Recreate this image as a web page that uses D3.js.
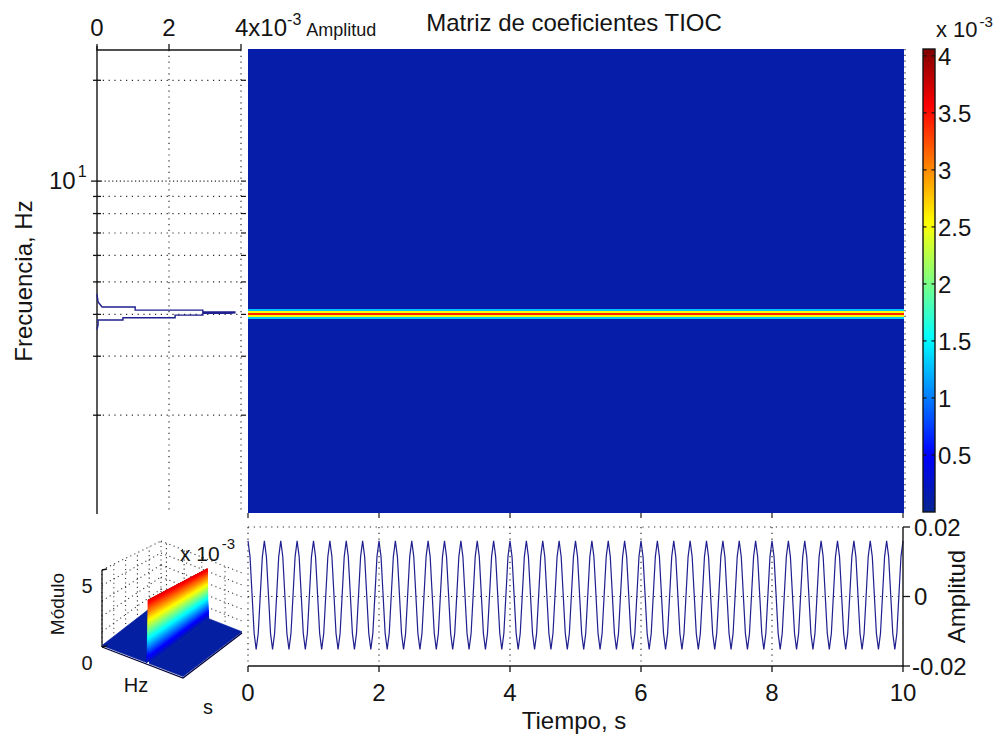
<!DOCTYPE html>
<html><head><meta charset="utf-8">
<script src="https://cdn.jsdelivr.net/npm/d3@7"></script>
<style>
body{margin:0;background:#fff}
svg{display:block}
text{font-family:"Liberation Sans",Arial,Helvetica,sans-serif;fill:#141414}
</style>
</head><body>
<svg id="c" width="1000" height="740"></svg>
<script>
// ---------------- data ----------------
const freqTicks = [2, 3, 4, 5, 6, 7, 8, 9, 10, 20];
const freqMajor = [10];
const ampTicks = [0, 0.002, 0.004];
const timeTicks = [0, 2, 4, 6, 8, 10];
const sigTicks = [-0.02, 0, 0.02];
const cbarTicks = [0.0005, 0.001, 0.0015, 0.002, 0.0025, 0.003, 0.0035, 0.004];
const freqRange = [1.028, 24.8];
const timeRange = [0, 10];
const ampRange = [0, 0.004];
const sigRange = [-0.02, 0.02];
const coefRange = [0, 0.00406];

// spectrum (left panel): frequency (Hz) and amplitude
const specFreq = [4.60, 4.36, 4.21, 4.21, 4.12, 4.12, 4.07, 4.07, 4.04, 4.03, 4.03, 3.98, 3.98, 3.91, 3.91, 3.85, 3.85, 3.72, 3.60];
const specAmp  = [0, 0.00003, 0.00014, 0.00106, 0.00106, 0.00294, 0.00294, 0.00383, 0.00383, 0.00369, 0.00294, 0.00294, 0.00217, 0.00217, 0.00072, 0.00072, 0.00003, 0.00003, 0];

// coefficient matrix rows (frequency edges, Hz) and values, columns in time (s)
const rowEdges = [1.028, 3.89, 3.95, 4.00, 4.06, 4.12, 4.18, 24.8];
const rowCoef  = [0.00012, 0.0013, 0.0025, 0.0034, 0.0025, 0.0013, 0.00012];
const timeEdges = [0, 1, 2, 3, 4, 5, 6, 7, 8, 9, 10];

// time signal samples
const sampleRate = 32;
const signal = [
0.0160,0.0114,0.0004,-0.0106,-0.0152,-0.0106,0.0004,0.0114,
0.0160,0.0114,0.0004,-0.0106,-0.0152,-0.0106,0.0004,0.0114,
0.0160,0.0114,0.0004,-0.0106,-0.0152,-0.0106,0.0004,0.0114,
0.0160,0.0114,0.0004,-0.0106,-0.0152,-0.0106,0.0004,0.0114,
0.0160,0.0114,0.0004,-0.0106,-0.0152,-0.0106,0.0004,0.0114,
0.0160,0.0114,0.0004,-0.0106,-0.0152,-0.0106,0.0004,0.0114,
0.0160,0.0114,0.0004,-0.0106,-0.0152,-0.0106,0.0004,0.0114,
0.0160,0.0114,0.0004,-0.0106,-0.0152,-0.0106,0.0004,0.0114,
0.0160,0.0114,0.0004,-0.0106,-0.0152,-0.0106,0.0004,0.0114,
0.0160,0.0114,0.0004,-0.0106,-0.0152,-0.0106,0.0004,0.0114,
0.0160,0.0114,0.0004,-0.0106,-0.0152,-0.0106,0.0004,0.0114,
0.0160,0.0114,0.0004,-0.0106,-0.0152,-0.0106,0.0004,0.0114,
0.0160,0.0114,0.0004,-0.0106,-0.0152,-0.0106,0.0004,0.0114,
0.0160,0.0114,0.0004,-0.0106,-0.0152,-0.0106,0.0004,0.0114,
0.0160,0.0114,0.0004,-0.0106,-0.0152,-0.0106,0.0004,0.0114,
0.0160,0.0114,0.0004,-0.0106,-0.0152,-0.0106,0.0004,0.0114,
0.0160,0.0114,0.0004,-0.0106,-0.0152,-0.0106,0.0004,0.0114,
0.0160,0.0114,0.0004,-0.0106,-0.0152,-0.0106,0.0004,0.0114,
0.0160,0.0114,0.0004,-0.0106,-0.0152,-0.0106,0.0004,0.0114,
0.0160,0.0114,0.0004,-0.0106,-0.0152,-0.0106,0.0004,0.0114,
0.0160,0.0114,0.0004,-0.0106,-0.0152,-0.0106,0.0004,0.0114,
0.0160,0.0114,0.0004,-0.0106,-0.0152,-0.0106,0.0004,0.0114,
0.0160,0.0114,0.0004,-0.0106,-0.0152,-0.0106,0.0004,0.0114,
0.0160,0.0114,0.0004,-0.0106,-0.0152,-0.0106,0.0004,0.0114,
0.0160,0.0114,0.0004,-0.0106,-0.0152,-0.0106,0.0004,0.0114,
0.0160,0.0114,0.0004,-0.0106,-0.0152,-0.0106,0.0004,0.0114,
0.0160,0.0114,0.0004,-0.0106,-0.0152,-0.0106,0.0004,0.0114,
0.0160,0.0114,0.0004,-0.0106,-0.0152,-0.0106,0.0004,0.0114,
0.0160,0.0114,0.0004,-0.0106,-0.0152,-0.0106,0.0004,0.0114,
0.0160,0.0114,0.0004,-0.0106,-0.0152,-0.0106,0.0004,0.0114,
0.0160,0.0114,0.0004,-0.0106,-0.0152,-0.0106,0.0004,0.0114,
0.0160,0.0114,0.0004,-0.0106,-0.0152,-0.0106,0.0004,0.0114,
0.0160,0.0114,0.0004,-0.0106,-0.0152,-0.0106,0.0004,0.0114,
0.0160,0.0114,0.0004,-0.0106,-0.0152,-0.0106,0.0004,0.0114,
0.0160,0.0114,0.0004,-0.0106,-0.0152,-0.0106,0.0004,0.0114,
0.0160,0.0114,0.0004,-0.0106,-0.0152,-0.0106,0.0004,0.0114,
0.0160,0.0114,0.0004,-0.0106,-0.0152,-0.0106,0.0004,0.0114,
0.0160,0.0114,0.0004,-0.0106,-0.0152,-0.0106,0.0004,0.0114,
0.0160,0.0114,0.0004,-0.0106,-0.0152,-0.0106,0.0004,0.0114,
0.0160,0.0114,0.0004,-0.0106,-0.0152,-0.0106,0.0004,0.0114,
0.0160];

// 3D inset surface: profile along frequency, constant over time
const surfFreq = [24.8, 4.30, 4.22, 4.15, 4.08, 4.04, 4.01, 3.94, 3.87, 3.80, 1.028];
const surfZ    = [0.0001, 0.0001, 0.0006, 0.0018, 0.0034, 0.0042, 0.0036, 0.0020, 0.0008, 0.0001, 0.0001];
const surfTime = [0, 10];
const surfCmax = 0.0046;
const zGridTicks = [0, 0.001, 0.002, 0.003, 0.004, 0.005];
const zTickLabels = [0, 0.005];
const hzGridTicks = [20, 10, 5, 2];

// ---------------- drawing ----------------
const svg = d3.select('#c');
const INK = '#141414';
const LINE = '#1f1f8f';
const dot = sel => sel.attr('stroke', '#2a2a2a').attr('stroke-width', 1.2).attr('stroke-dasharray', '1.2,4.6').attr('fill', 'none');

const fY = d3.scaleLog().domain(freqRange).range([512, 49]);
const tX = d3.scaleLinear().domain(timeRange).range([248, 903]);
const aX = d3.scaleLinear().domain(ampRange).range([97, 241]);
const sY = d3.scaleLinear().domain(sigRange).range([666, 527]);
const cY = d3.scaleLinear().domain(coefRange).range([512, 49]);

const jetPos = [0, 0.125, 0.375, 0.625, 0.875, 1];
const jetCol = ['#06268e', '#0000ff', '#00ffff', '#ffff00', '#ff0000', '#800000'];
const jet = d3.scaleLinear().domain(jetPos.map(p => p * coefRange[1])).range(jetCol).clamp(true);
const jetS = d3.scaleLinear().domain(jetPos.map(p => p * surfCmax)).range(jetCol).clamp(true);

// title
svg.append('text').attr('x', 574).attr('y', 31).attr('text-anchor', 'middle')
  .attr('font-size', 24).text('Matriz de coeficientes TIOC');

// ---- heatmap ----
const cells = [];
rowCoef.forEach((c, i) => timeEdges.slice(0, -1).forEach((t, j) =>
  cells.push({f0: rowEdges[i], f1: rowEdges[i + 1], t0: t, t1: timeEdges[j + 1], c})));
svg.append('g').attr('shape-rendering', 'crispEdges')
  .selectAll('rect').data(cells).join('rect')
  .attr('x', d => tX(d.t0)).attr('y', d => fY(d.f1))
  .attr('width', d => tX(d.t1) - tX(d.t0) + 0.6)
  .attr('height', d => fY(d.f0) - fY(d.f1) + 0.6)
  .attr('fill', d => jet(d.c));
svg.append('line').attr('x1', 905).attr('x2', 905).attr('y1', 49).attr('y2', 513).call(dot);
svg.append('g').selectAll('line').data(timeTicks).join('line')
  .attr('x1', d => tX(d)).attr('x2', d => tX(d)).attr('y1', 513).attr('y2', 518)
  .attr('stroke', INK).attr('stroke-width', 1.2);

// ---- left spectrum panel ----
const lp = svg.append('g');
lp.selectAll('.hg').data(freqTicks).join('line')
  .attr('x1', 97).attr('x2', 241).attr('y1', d => fY(d)).attr('y2', d => fY(d)).call(dot)
  .attr('stroke-dasharray', d => freqMajor.includes(d) ? '1.2,2.6' : '1.2,4.6');
lp.selectAll('.vg').data(ampTicks.slice(1)).join('line')
  .attr('x1', d => aX(d)).attr('x2', d => aX(d)).attr('y1', 50).attr('y2', 512).call(dot);
lp.append('line').attr('x1', 97).attr('x2', 97).attr('y1', 46).attr('y2', 514).attr('stroke', INK).attr('stroke-width', 1.4);
lp.append('line').attr('x1', 96.3).attr('x2', 241).attr('y1', 50).attr('y2', 50).attr('stroke', INK).attr('stroke-width', 1.4);
lp.selectAll('.lt').data(freqTicks).join('line')
  .attr('x1', d => freqMajor.includes(d) ? 91 : 93).attr('x2', 101)
  .attr('y1', d => fY(d)).attr('y2', d => fY(d)).attr('stroke', INK).attr('stroke-width', 1.3);
lp.selectAll('.rt').data(freqTicks).join('line')
  .attr('x1', 241).attr('x2', 246).attr('y1', d => fY(d)).attr('y2', d => fY(d)).attr('stroke', INK).attr('stroke-width', 1.2);
lp.selectAll('.tt').data(ampTicks).join('line')
  .attr('x1', d => aX(d)).attr('x2', d => aX(d)).attr('y1', 44).attr('y2', 50).attr('stroke', INK).attr('stroke-width', 1.3);
lp.selectAll('.tl').data(ampTicks.slice(0, 2)).join('text')
  .attr('x', d => aX(d)).attr('y', 36).attr('text-anchor', 'middle').attr('font-size', 24)
  .text(d => d3.format('~g')(d * 1000));
const t4 = lp.append('text').attr('x', aX(ampTicks[2]) - 6).attr('y', 36).attr('font-size', 24);
t4.append('tspan').text(d3.format('~g')(ampTicks[2] * 1000) + 'x10');
t4.append('tspan').attr('font-size', 16).attr('dy', -11).text('-3');
t4.append('tspan').attr('font-size', 18).attr('dy', 11).attr('dx', 5).text('Amplitud');
const t10 = lp.append('text').attr('x', 49).attr('y', fY(10) + 8).attr('font-size', 24);
t10.append('tspan').text('10');
t10.append('tspan').attr('font-size', 16).attr('dy', -12).attr('dx', 2).text('1');
lp.append('text').attr('transform', 'translate(32,281) rotate(-90)').attr('text-anchor', 'middle')
  .attr('font-size', 24).text('Frecuencia, Hz');
const spec = specFreq.map((f, i) => [f, specAmp[i]]);
lp.append('path').datum(spec)
  .attr('d', d3.line().x(d => aX(d[1])).y(d => fY(d[0])))
  .attr('fill', 'none').attr('stroke', LINE).attr('stroke-width', 1.4);

// ---- colorbar ----
const defs = svg.append('defs');
const grad = defs.append('linearGradient').attr('id', 'cbg').attr('x1', 0).attr('y1', 1).attr('x2', 0).attr('y2', 0);
d3.range(0, 1.0001, 0.02).forEach(o => grad.append('stop').attr('offset', o).attr('stop-color', jet(o * coefRange[1])));
svg.append('rect').attr('x', 923).attr('y', cY(coefRange[1])).attr('width', 12)
  .attr('height', cY(coefRange[0]) - cY(coefRange[1])).attr('fill', 'url(#cbg)')
  .attr('stroke', INK).attr('stroke-width', 1.4);
const cb = svg.append('g');
cb.selectAll('.a').data(cbarTicks).join('line').attr('x1', 923).attr('x2', 926.5)
  .attr('y1', d => cY(d)).attr('y2', d => cY(d)).attr('stroke', INK).attr('stroke-width', 1.2);
cb.selectAll('.b').data(cbarTicks).join('line').attr('x1', 931.5).attr('x2', 935)
  .attr('y1', d => cY(d)).attr('y2', d => cY(d)).attr('stroke', INK).attr('stroke-width', 1.2);
cb.selectAll('text').data(cbarTicks).join('text').attr('x', 938).attr('y', d => cY(d) + 9)
  .attr('font-size', 24).text(d => d3.format('.2~g')(d * 1000));
const cbe = svg.append('text').attr('x', 936).attr('y', 37).attr('font-size', 22);
cbe.append('tspan').text('x 10');
cbe.append('tspan').attr('font-size', 15).attr('dy', -10).attr('dx', 2).text('-3');

// ---- signal panel ----
const sp = svg.append('g');
sp.selectAll('.hg').data(sigTicks.slice(1)).join('line')
  .attr('x1', tX(0)).attr('x2', tX(10)).attr('y1', d => sY(d)).attr('y2', d => sY(d)).call(dot);
sp.selectAll('.vg').data(timeTicks.slice(0, -1)).join('line')
  .attr('x1', d => tX(d)).attr('x2', d => tX(d)).attr('y1', sY(0.02)).attr('y2', sY(-0.02)).call(dot);
const sig = signal.map((v, i) => [i / sampleRate, v]);
sp.append('path').datum(sig)
  .attr('d', d3.line().x(d => tX(d[0])).y(d => sY(d[1])))
  .attr('fill', 'none').attr('stroke', LINE).attr('stroke-width', 1.2);
sp.append('line').attr('x1', tX(0)).attr('x2', tX(10) + 0.7).attr('y1', sY(-0.02)).attr('y2', sY(-0.02)).attr('stroke', INK).attr('stroke-width', 1.4);
sp.append('line').attr('x1', tX(10)).attr('x2', tX(10)).attr('y1', sY(0.02)).attr('y2', sY(-0.02)).attr('stroke', INK).attr('stroke-width', 1.4);
sp.selectAll('.xt').data(timeTicks).join('line')
  .attr('x1', d => tX(d)).attr('x2', d => tX(d)).attr('y1', sY(-0.02)).attr('y2', sY(-0.02) + 6)
  .attr('stroke', INK).attr('stroke-width', 1.3);
sp.selectAll('.yt').data(sigTicks).join('line')
  .attr('x1', tX(10)).attr('x2', tX(10) + 7).attr('y1', d => sY(d)).attr('y2', d => sY(d))
  .attr('stroke', INK).attr('stroke-width', 1.3);
sp.selectAll('.xl').data(timeTicks).join('text')
  .attr('x', d => tX(d)).attr('y', 701).attr('text-anchor', 'middle').attr('font-size', 24).text(d => d);
sp.selectAll('.yl').data(sigTicks).join('text')
  .attr('x', d => d < 0 ? 912 : 914).attr('y', d => sY(d) + 8.5).attr('font-size', 24)
  .text(d => d === 0 ? '0' : d3.format('.2f')(d).replace('−', '-'));
sp.append('text').attr('x', 574).attr('y', 729).attr('text-anchor', 'middle').attr('font-size', 24).text('Tiempo, s');
sp.append('text').attr('transform', `translate(965,${sY(0)}) rotate(-90)`).attr('text-anchor', 'middle')
  .attr('font-size', 24).text('Amplitud');

// ---- 3D inset ----
const Lc = [102, 647], Bc = [183, 678], Rc = [242, 633], Tc = [161, 601];
const uS = d3.scaleLog().domain([freqRange[1], freqRange[0]]).range([0, 1]);
const vS = d3.scaleLinear().domain(timeRange).range([0, 1]);
const zS = d3.scaleLinear().domain([0, 0.005]).range([0, 1]);
function proj(f, t, z) {
  const u = uS(f), v = vS(t);
  const w = [(1 - u) * (1 - v), u * (1 - v), u * v, (1 - u) * v];
  const x = w[0] * Lc[0] + w[1] * Bc[0] + w[2] * Rc[0] + w[3] * Tc[0];
  const y = w[0] * Lc[1] + w[1] * Bc[1] + w[2] * Rc[1] + w[3] * Tc[1] - zS(z) * (77 - 17 * v);
  return [x, y];
}
const fMax = freqRange[1], fMin = freqRange[0];
const g3 = svg.append('g');
const seg = (a, b) => g3.append('line').attr('x1', a[0]).attr('y1', a[1]).attr('x2', b[0]).attr('y2', b[1])
  .attr('stroke', '#333').attr('stroke-width', 1.1).attr('stroke-dasharray', '1.1,3.4');
timeTicks.forEach(t => seg(proj(fMax, t, 0), proj(fMax, t, 0.005)));
zGridTicks.forEach(z => seg(proj(fMax, 0, z), proj(fMax, 10, z)));
hzGridTicks.forEach(f => seg(proj(f, 10, 0), proj(f, 10, 0.005)));
zGridTicks.forEach(z => seg(proj(fMax, 10, z), proj(fMin, 10, z)));

// surface: back (high freq, u=0) to front
const quads = [];
for (let i = 0; i < surfFreq.length - 1; i++) {
  const ua = uS(surfFreq[i]), ub = uS(surfFreq[i + 1]);
  const za = surfZ[i], zb = surfZ[i + 1];
  const n = za === zb ? 1 : 40;
  for (let k = 0; k < n; k++) {
    const f1 = uS.invert(ua + (ub - ua) * k / n), f2 = uS.invert(ua + (ub - ua) * (k + 1) / n);
    const z1 = za + (zb - za) * k / n, z2 = za + (zb - za) * (k + 1) / n;
    quads.push({pts: [proj(f1, surfTime[0], z1), proj(f2, surfTime[0], z2), proj(f2, surfTime[1], z2), proj(f1, surfTime[1], z1)],
      z: (z1 + z2) / 2});
  }
}
g3.selectAll('polygon').data(quads).join('polygon')
  .attr('points', d => d.pts.map(p => p.join(',')).join(' '))
  .attr('fill', d => jetS(d.z)).attr('stroke', d => jetS(d.z)).attr('stroke-width', 0.7);
g3.append('polyline')
  .attr('points', [proj(fMax, 0, 0), proj(fMin, 0, 0), proj(fMin, 10, 0)].map(p => p.join(',')).join(' '))
  .attr('fill', 'none').attr('stroke', '#00003a').attr('stroke-width', 1.3);
// z axis
const za0 = proj(fMax, 0, 0), za1 = proj(fMax, 0, 0.005);
g3.append('line').attr('x1', za0[0]).attr('y1', za0[1]).attr('x2', za1[0]).attr('y2', za1[1]).attr('stroke', INK).attr('stroke-width', 1.3);
zTickLabels.forEach(z => {
  const p = proj(fMax, 0, z);
  g3.append('line').attr('x1', p[0]).attr('y1', p[1]).attr('x2', p[0] + 5).attr('y2', p[1] - 1).attr('stroke', INK).attr('stroke-width', 1.3);
  g3.append('text').attr('x', p[0] - 15).attr('y', p[1] + 23).attr('text-anchor', 'middle').attr('font-size', 20)
    .text(d3.format('~g')(z * 1000));
});
g3.append('text').attr('x', 136).attr('y', 692).attr('text-anchor', 'middle').attr('font-size', 20).text('Hz');
g3.append('text').attr('x', 208).attr('y', 714).attr('text-anchor', 'middle').attr('font-size', 20).text('s');
g3.append('text').attr('transform', 'translate(64,604) rotate(-90)').attr('text-anchor', 'middle')
  .attr('font-size', 19).text('Módulo');
const ie = g3.append('text').attr('x', 180).attr('y', 561).attr('font-size', 21);
ie.append('tspan').text('x 10');
ie.append('tspan').attr('font-size', 15).attr('dy', -12).attr('dx', 2).text('-3');
</script>
</body></html>
